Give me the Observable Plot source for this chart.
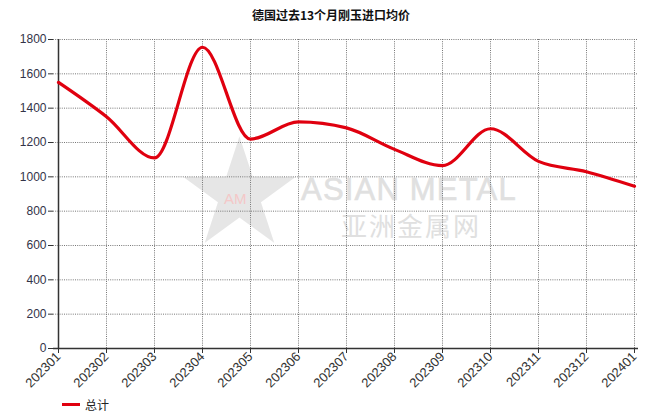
<!DOCTYPE html>
<html>
<head>
<meta charset="utf-8">
<script src="https://cdn.jsdelivr.net/npm/d3@7"></script>
<script src="https://cdn.jsdelivr.net/npm/@observablehq/plot@0.6"></script>
<style>
  html, body { margin: 0; padding: 0; background: #fff; width: 658px; height: 412px; overflow: hidden; font-family: "Liberation Sans", Arial, sans-serif; }
  #wrap { position: relative; width: 658px; height: 412px; }
  #title { position: absolute; left: 0; top: 6px; width: 658px; text-align: center; font: bold 12px "Noto Sans CJK SC", sans-serif; color: #111; padding-left: 2px; }
  #chart { position: absolute; left: 0; top: 28px; z-index: 2; }
  #chart svg { display: block; }
  .wm { position: absolute; z-index: 1; color: #e0e0e0; white-space: nowrap; }
  #wm-star { left: 174px; top: 118px; font-size: 146px; line-height: 146px; color: #e6e6e6; font-family: "DejaVu Sans", sans-serif; }
  #wm-am { left: 224px; top: 190px; font-size: 15px; color: #f4c8c8; font-family: "Liberation Sans", sans-serif; }
  #wm-en { left: 301px; top: 172px; font: 31px "Liberation Sans", Arial, sans-serif; letter-spacing: 1.2px; -webkit-text-stroke: 0.6px #e0e0e0; }
  #wm-cn { left: 341px; top: 206px; font: 26px "Noto Sans CJK SC", sans-serif; letter-spacing: 2px; }
  #legend { position: absolute; left: 62px; top: 397px; height: 15px; z-index: 2; display: flex; align-items: center; font: 12px/14px "Noto Sans CJK SC", sans-serif; color: #222; }
  #legend .sw { width: 18px; height: 3px; background: #e0000f; margin-right: 5px; }
</style>
</head>
<body>
<div id="wrap">
  <div id="title">德国过去13个月刚玉进口均价</div>
  <div class="wm" id="wm-star">★</div>
  <div class="wm" id="wm-am">AM</div>
  <div class="wm" id="wm-en">ASIAN METAL</div>
  <div class="wm" id="wm-cn">亚洲金属网</div>
  <div id="chart"></div>
  <div id="legend"><span class="sw"></span><span>总计</span></div>
</div>
<script>
const months = ["202301","202302","202303","202304","202305","202306","202307","202308","202309","202310","202311","202312","202401"];
const values = [1550, 1350, 1110, 1755, 1220, 1320, 1285, 1160, 1065, 1280, 1090, 1030, 945];
const yTicks = [0, 200, 400, 600, 800, 1000, 1200, 1400, 1600, 1800];
const seriesName = "总计";

const data = months.map((m, i) => ({month: m, value: values[i], series: seriesName}));

const chart = Plot.plot({
  width: 658,
  height: 370,
  marginLeft: 53,
  marginRight: 20,
  marginTop: 11,
  marginBottom: 50,
  style: { background: "transparent", fontFamily: "Liberation Sans, Arial, sans-serif", color: "#333" },
  x: { type: "point", domain: months, padding: 0 },
  y: { domain: [0, 1800] },
  marks: [
    Plot.gridX(months, { stroke: "#777", strokeOpacity: 1, strokeDasharray: "1,1.2", strokeWidth: 1 }),
    Plot.gridY(yTicks, { stroke: "#777", strokeOpacity: 1, strokeDasharray: "1,1.2", strokeWidth: 1 }),
    Plot.axisY(yTicks, { tickSize: 5, tickPadding: 2, stroke: "#333", fill: "#333348", label: null, fontSize: 12, tickFormat: d => String(d) }),
    Plot.axisX(months, { tickSize: 5, tickPadding: 1, tickRotate: -45, stroke: "#333", fill: "#333", label: null, fontSize: 13 }),
    Plot.ruleX([months[0]], { stroke: "#333", strokeWidth: 1.5 }),
    Plot.ruleY([0], { stroke: "#333", strokeWidth: 1.5 }),
    Plot.line(data, { x: "month", y: "value", stroke: "#e0000f", strokeWidth: 3.2, curve: "monotone-x" })
  ]
});
document.getElementById("chart").appendChild(chart);
</script>
</body>
</html>
